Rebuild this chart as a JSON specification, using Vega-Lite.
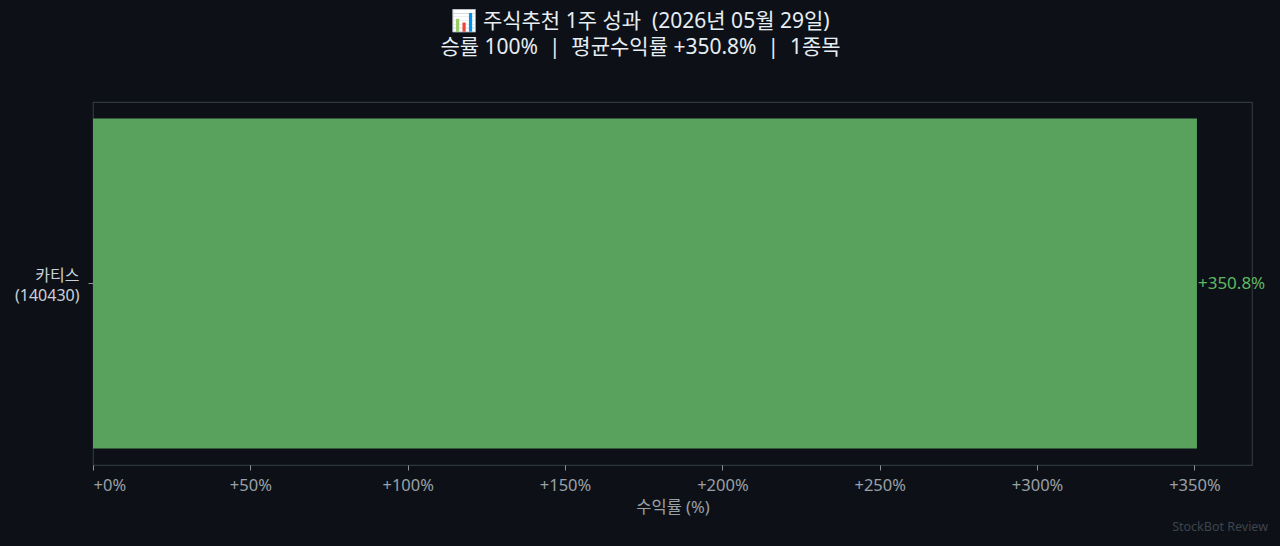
{
  "$schema": "https://vega.github.io/schema/vega-lite/v6.json",
  "autosize": "none",
  "width": 1159,
  "height": 363,
  "padding": {"left": 93, "top": 102, "right": 28, "bottom": 81},
  "background": "#0d1117",
  "config": {
    "font": "Noto Sans, Noto Sans CJK KR",
    "view": {"stroke": "#30363d", "strokeWidth": 1.2}
  },
  "title": {
    "text": ["📊 주식추천 1주 성과\u00a0\u00a0(2026년 05월 29일)", "승률 100%\u00a0\u00a0|\u00a0\u00a0평균수익률 +350.8%\u00a0\u00a0|\u00a0\u00a01종목"],
    "color": "#e6edf3",
    "fontSize": 21,
    "fontWeight": "normal",
    "lineHeight": 26,
    "anchor": "middle",
    "dx": -32,
    "offset": 44
  },
  "data": {
    "values": [
      {"stock": "카티스\n(140430)", "ret": 350.8, "label": "+350.8%", "mark": "StockBot Review"}
    ]
  },
  "layer": [
    {
      "mark": {"type": "bar", "color": "#58a25d"},
      "encoding": {
        "y": {
          "field": "stock",
          "type": "nominal",
          "scale": {"paddingInner": 0, "paddingOuter": 0.05},
          "axis": {
            "title": null,
            "domain": false,
            "labelExpr": "split(datum.value, '\\n')",
            "labelColor": "#c9d1d9",
            "labelFontSize": 16,
            "labelLineHeight": 20,
            "labelPadding": 9,
            "labelOffset": -8,
            "tickColor": "#8b949e",
            "tickSize": 5
          }
        },
        "x": {
          "field": "ret",
          "type": "quantitative",
          "scale": {"domain": [0, 368.3], "nice": false},
          "axis": {
            "title": "수익률 (%)",
            "titleColor": "#9aa0a6",
            "titleFontSize": 16.5,
            "titleFontWeight": "normal",
            "titlePadding": 6,
            "values": [0, 50, 100, 150, 200, 250, 300, 350],
            "labelExpr": "'+' + datum.value + '%'",
            "labelColor": "#9aa0a6",
            "labelFontSize": 16.5,
            "labelPadding": 7,
            "domain": false,
            "grid": false,
            "tickColor": "#8b949e",
            "tickSize": 5
          }
        }
      }
    },
    {
      "mark": {"type": "text", "align": "left", "baseline": "middle", "dx": 1, "fontSize": 17, "color": "#5fb860"},
      "encoding": {
        "y": {"field": "stock", "type": "nominal"},
        "x": {"field": "ret", "type": "quantitative"},
        "text": {"field": "label"}
      }
    },
    {
      "mark": {"type": "text", "align": "right", "baseline": "middle", "dx": 16, "dy": 243, "fontSize": 12.5, "color": "#3d444d"},
      "encoding": {
        "x": {"datum": 368.3, "type": "quantitative"},
        "text": {"field": "mark"}
      }
    }
  ]
}
